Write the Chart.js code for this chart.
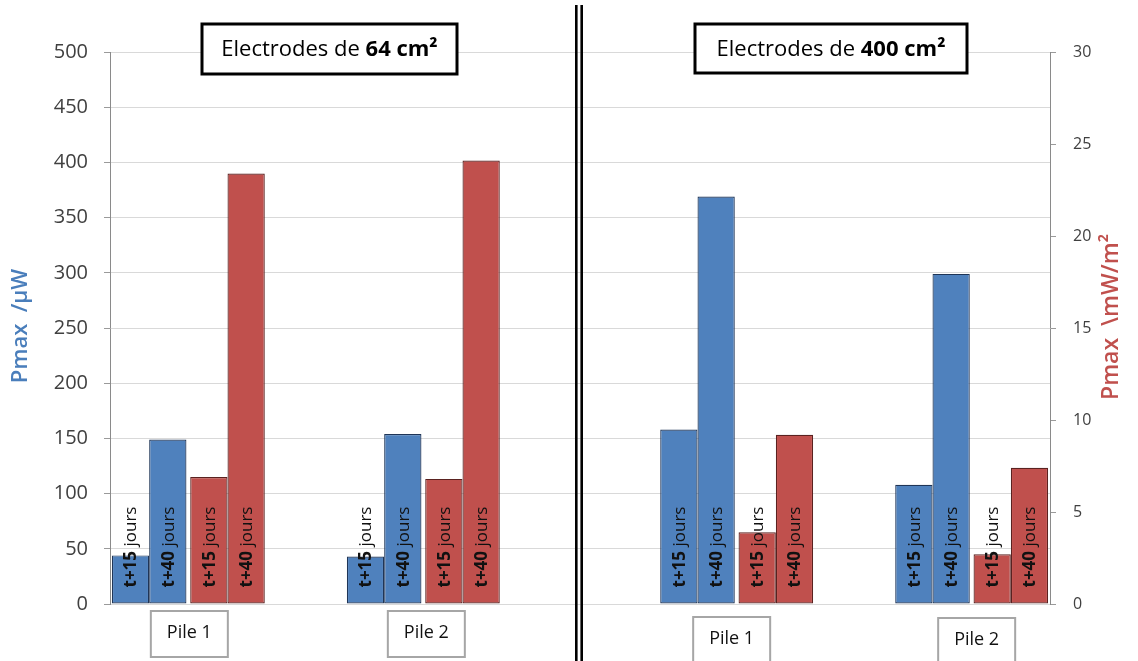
<!DOCTYPE html>
<html>
<head>
<meta charset="utf-8">
<script src="https://cdn.jsdelivr.net/npm/chart.js@4/dist/chart.umd.min.js"></script>
<style>
  html, body { margin: 0; padding: 0; background: #ffffff; }
  canvas { display: block; }
</style>
</head>
<body>
<canvas id="c" width="1138" height="661"></canvas>
<script>
// ---------------- DATA ----------------
const electrodeSizes = ['64 cm²', '400 cm²'];
const pileNames      = ['Pile 1', 'Pile 2', 'Pile 1', 'Pile 2'];   // 64 cm² P1, P2 | 400 cm² P1, P2
const periods        = ['t+15', 't+40'];
const unitWord       = 'jours';
// Pmax in µW (blue, left axis)
const pmaxUW_t15     = [44, 43, 158, 108];
const pmaxUW_t40     = [149, 154, 369, 299];
// Pmax in mW/m² (red, right axis)
const pmaxDens_t15   = [6.9, 6.8, 3.9, 2.7];
const pmaxDens_t40   = [23.4, 24.1, 9.2, 7.4];
// axis tick labels
const ticksUW        = [0, 50, 100, 150, 200, 250, 300, 350, 400, 450, 500];
const ticksDens      = [0, 5, 10, 15, 20, 25, 30];
const titleLeft      = 'Pmax  /µW';
const titleRight     = 'Pmax  \\mW/m²';

// ---------------- LAYOUT (slots) ----------------
const gapAfter = [1, 2, 1, 0];
const labels = [], blue15 = [], blue40 = [], red15 = [], red40 = [];
pileNames.forEach((p, i) => {
  labels.push(p); blue15.push(pmaxUW_t15[i]); blue40.push(pmaxUW_t40[i]); red15.push(null); red40.push(null);
  labels.push(p); blue15.push(null); blue40.push(null); red15.push(pmaxDens_t15[i]); red40.push(pmaxDens_t40[i]);
  for (let k = 0; k < gapAfter[i]; k++) {
    labels.push(''); blue15.push(null); blue40.push(null); red15.push(null); red40.push(null);
  }
});

const BLUE = '#4f81bd', BLUE_B = '#1f3557';
const RED = '#c0504d', RED_B = '#5a2220';
const FONT = '"Open Sans", "Noto Sans", sans-serif';

const annotations = {
  id: 'annotations',
  afterDatasetsDraw(chart) {
    const ctx = chart.ctx;
    chart.data.datasets.forEach((ds, di) => {
      const meta = chart.getDatasetMeta(di);
      meta.data.forEach((el, i) => {
        if (ds.data[i] == null) return;
        ctx.save();
        ctx.translate(el.x + 1, el.base - 16);
        ctx.rotate(-Math.PI / 2);
        ctx.textBaseline = 'middle';
        ctx.textAlign = 'left';
        ctx.fillStyle = '#111111';
        ctx.font = 'bold 17px ' + FONT;
        ctx.fillText(ds.label, 0, 0);
        const w = ctx.measureText(ds.label).width;
        ctx.font = '17px ' + FONT;
        ctx.fillText(' ' + unitWord, w, 0);
        ctx.restore();
      });
    });
  },
  afterDraw(chart) {
    const ctx = chart.ctx;
    const x = chart.scales.x;
    ctx.save();
    // separator
    ctx.fillStyle = '#000';
    ctx.fillRect(575, 5, 2.6, 656);
    ctx.fillRect(580.4, 5, 2.6, 656);

    // title boxes
    const boxes = [{cx: 329.5, w: 255, y: 24, h: 50}, {cx: 831, w: 272, y: 24, h: 49}];
    electrodeSizes.forEach((s, i) => {
      const b = boxes[i];
      ctx.fillStyle = '#fff';
      ctx.fillRect(b.cx - b.w / 2, b.y, b.w, b.h);
      ctx.strokeStyle = '#000';
      ctx.lineWidth = 3;
      ctx.strokeRect(b.cx - b.w / 2, b.y, b.w, b.h);
      const a = 'Electrodes de ';
      ctx.font = '22px ' + FONT;
      const wa = ctx.measureText(a).width;
      ctx.font = 'bold 22px ' + FONT;
      const wb = ctx.measureText(s).width;
      let sx = b.cx - (wa + wb) / 2;
      ctx.fillStyle = '#000';
      ctx.textBaseline = 'middle';
      ctx.textAlign = 'left';
      ctx.font = '22px ' + FONT;
      ctx.fillText(a, sx, b.y + b.h / 2 + 1);
      ctx.font = 'bold 22px ' + FONT;
      ctx.fillText(s, sx + wa, b.y + b.h / 2 + 1);
    });

    // pile boxes (centered between blue and red slot of each group)
    const pileTop = [611, 611, 617, 618];
    const pileOff = [1, 3, -5, 5];
    let slot = 0;
    pileNames.forEach((p, i) => {
      const cx = (x.getPixelForValue(slot) + x.getPixelForValue(slot + 1)) / 2 + pileOff[i];
      slot += 2 + gapAfter[i];
      const w = 77, h = 46, top = pileTop[i];
      ctx.fillStyle = '#fff';
      ctx.fillRect(cx - w / 2, top, w, h);
      ctx.strokeStyle = '#a6a6a6';
      ctx.lineWidth = 2;
      ctx.strokeRect(cx - w / 2, top, w, h);
      ctx.fillStyle = '#111';
      ctx.font = '18px ' + FONT;
      ctx.textAlign = 'center';
      ctx.textBaseline = 'middle';
      ctx.fillText(p, cx, top + 22);
    });

    // axis titles
    ctx.font = '600 22px ' + FONT;
    ctx.textAlign = 'center';
    ctx.textBaseline = 'middle';
    ctx.save();
    ctx.translate(21, 326);
    ctx.rotate(-Math.PI / 2);
    ctx.fillStyle = '#4a7ebb';
    ctx.fillText(titleLeft, 0, 0);
    ctx.restore();
    ctx.save();
    ctx.translate(1111, 317);
    ctx.rotate(-Math.PI / 2);
    ctx.fillStyle = '#c0504d';
    ctx.font = '600 23px ' + FONT;
    ctx.fillText(titleRight, 0, 0);
    ctx.restore();
    ctx.restore();
  }
};

new Chart(document.getElementById('c'), {
  type: 'bar',
  data: {
    labels: labels,
    datasets: [
      { label: periods[0], data: blue15, yAxisID: 'y',  backgroundColor: BLUE, borderColor: BLUE_B, borderWidth: 1.2, skipNull: true },
      { label: periods[1], data: blue40, yAxisID: 'y',  backgroundColor: BLUE, borderColor: BLUE_B, borderWidth: 1.2, skipNull: true },
      { label: periods[0], data: red15,  yAxisID: 'y2', backgroundColor: RED,  borderColor: RED_B,  borderWidth: 1.2, skipNull: true },
      { label: periods[1], data: red40,  yAxisID: 'y2', backgroundColor: RED,  borderColor: RED_B,  borderWidth: 1.2, skipNull: true }
    ]
  },
  options: {
    responsive: false,
    animation: false,
    devicePixelRatio: 1,
    layout: { padding: { top: 52, left: 0, right: 0, bottom: 0 } },
    datasets: { bar: { categoryPercentage: 0.952, barPercentage: 1.0, borderSkipped: false } },
    plugins: { legend: { display: false }, tooltip: { enabled: false } },
    scales: {
      x: {
        type: 'category',
        offset: true,
        grid: { display: false },
        border: { display: false },
        ticks: { display: false },
        afterFit: s => { s.height = 57; }
      },
      y: {
        position: 'left',
        min: 0, max: 500,
        afterBuildTicks: s => { s.ticks = ticksUW.map(v => ({ value: v })); },
        grid: { color: '#d9d9d9', lineWidth: 1, tickLength: 6, tickColor: '#9a9a9a' },
        border: { color: '#8a8a8a', width: 1 },
        ticks: { font: { family: FONT, size: 20 }, color: '#404040', padding: 16 },
        afterFit: s => { s.width = 110; }
      },
      y2: {
        position: 'right',
        min: 0, max: 30,
        afterBuildTicks: s => { s.ticks = ticksDens.map(v => ({ value: v })); },
        grid: { drawOnChartArea: false, tickLength: 6, tickColor: '#9a9a9a' },
        border: { color: '#8a8a8a', width: 1 },
        ticks: { font: { family: FONT, size: 16 }, color: '#404040', padding: 17 },
        afterFit: s => { s.width = 88; }
      }
    }
  },
  plugins: [annotations]
});
</script>
</body>
</html>
